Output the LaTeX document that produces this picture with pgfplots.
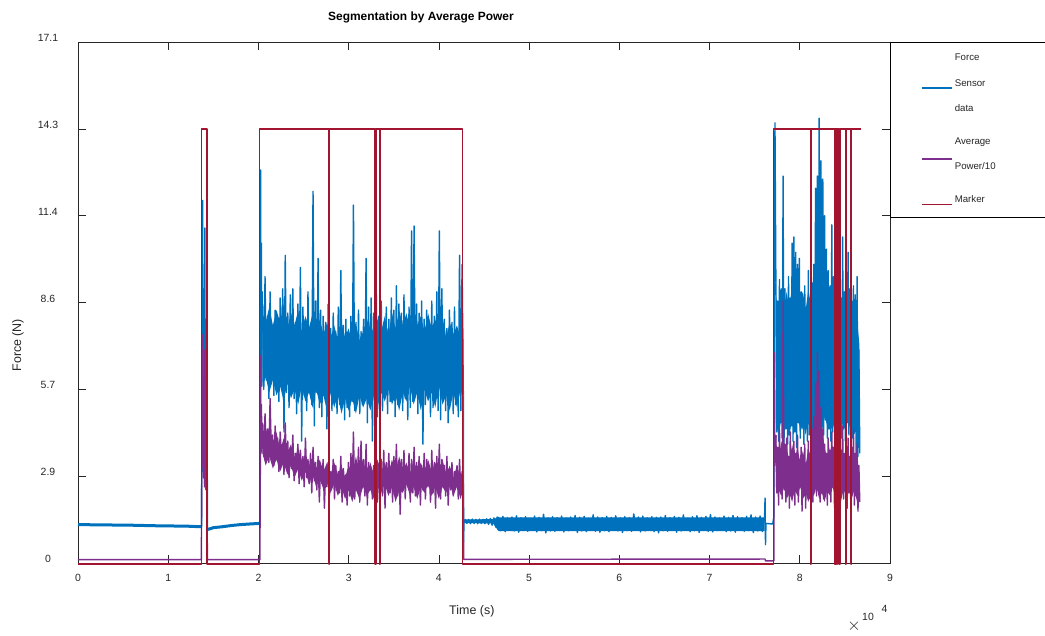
\documentclass[border=0pt]{standalone}
\usepackage{fontspec}
\setmainfont{Liberation Sans}
\usepackage{pgfplots}
\pgfplotsset{compat=1.18}
\usepackage{pgfplotstable}
\definecolor{mblue}{HTML}{0072BD}
\definecolor{mpurple}{HTML}{7E2F8E}
\definecolor{mred}{HTML}{A2142F}
\definecolor{axgray}{HTML}{262626}

% active segment 2: time (x1e4), force, power/10
\pgfplotstableread{
x f p
2.045 8.6 4.6
2.059 5.7 3.5
2.073 9.4 4.9
2.087 6.0 3.7
2.101 8.1 4.4
2.115 5.4 3.3
2.129 8.9 5.4
2.143 6.2 3.6
2.157 7.7 4.2
2.171 5.5 3.2
2.185 8.3 4.5
2.199 5.9 3.4
2.213 8.0 4.1
2.227 5.3 3.0
2.241 8.7 4.3
2.255 6.1 3.5
2.269 9.0 3.9
2.283 4.3 2.9
2.297 10.1 4.6
2.311 5.6 3.1
2.325 8.2 4.0
2.339 5.1 2.8
2.353 8.8 3.8
2.367 5.8 3.1
2.381 9.0 4.2
2.395 5.4 2.7
2.409 7.9 3.6
2.423 4.9 3.0
2.437 8.5 3.9
2.451 5.7 2.6
2.465 9.7 3.7
2.479 4.0 2.9
2.493 8.4 3.5
2.507 5.5 2.5
2.521 8.0 4.1
2.535 5.0 2.8
2.549 8.9 3.4
2.563 5.9 2.6
2.577 7.8 3.6
2.591 5.2 2.3
2.605 12.2 3.8
2.619 4.5 2.7
2.633 8.6 3.3
2.647 5.6 2.4
2.661 10.0 3.5
2.675 5.1 2.0
2.689 8.3 3.2
2.703 4.8 2.6
2.717 8.1 3.4
2.731 5.7 1.8
2.745 7.9 3.1
2.759 4.4 2.5
2.773 8.5 3.3
2.787 5.3 2.2
2.801 7.7 3.0
2.815 5.0 2.6
2.829 8.2 3.4
2.843 5.5 2.1
2.857 7.6 3.2
2.871 4.9 2.4
2.885 8.4 3.0
2.899 5.2 2.3
2.913 9.6 3.5
2.927 5.4 2.0
2.941 7.8 3.1
2.955 4.7 2.5
2.969 8.0 2.9
2.983 5.1 1.9
2.997 7.5 3.3
3.011 4.8 2.2
3.025 8.1 3.6
3.039 5.3 2.4
3.053 11.75 4.3
3.067 5.0 2.1
3.081 7.9 3.2
3.095 5.6 2.6
3.109 8.3 3.8
3.123 4.9 2.0
3.137 7.6 4.0
3.151 5.2 2.5
3.165 8.0 3.4
3.179 5.5 2.2
3.193 10.0 3.9
3.207 4.6 1.9
3.221 8.4 3.3
3.235 5.2 2.5
3.249 8.7 3.0
3.263 4.0 2.1
3.277 8.2 3.2
3.291 5.4 2.4
3.305 9.2 3.5
3.319 4.8 2.0
3.333 8.1 3.1
3.347 5.5 2.6
3.361 8.6 3.4
3.375 5.0 2.2
3.389 7.9 3.7
3.403 5.7 1.8
3.417 8.4 3.3
3.431 4.9 2.5
3.445 8.0 3.6
3.459 5.3 2.3
3.473 8.7 3.2
3.487 5.6 2.0
3.501 8.3 3.5
3.515 4.8 2.6
3.529 9.1 3.9
3.543 5.2 2.2
3.557 8.5 3.3
3.571 5.5 1.6
3.585 8.2 3.4
3.599 5.0 2.4
3.613 8.8 3.7
3.627 5.4 2.1
3.641 7.9 3.2
3.655 4.7 2.5
3.669 8.4 3.6
3.683 5.1 2.0
3.697 10.9 3.4
3.711 5.3 2.3
3.725 11.06 3.8
3.739 5.6 2.2
3.753 8.5 3.3
3.767 4.9 2.6
3.781 8.2 3.5
3.795 5.4 1.9
3.809 8.6 3.2
3.823 3.9 2.4
3.837 8.0 3.6
3.851 5.2 2.1
3.865 8.3 3.4
3.879 5.5 2.5
3.893 7.8 3.1
3.907 4.8 2.0
3.921 8.6 3.7
3.935 5.1 2.3
3.949 8.1 3.3
3.963 5.6 1.8
3.977 8.9 3.5
3.991 5.0 2.4
4.005 10.9 3.9
4.019 4.7 2.1
4.033 9.0 3.4
4.047 5.3 2.6
4.061 8.0 3.2
4.075 5.0 2.2
4.089 7.7 3.5
4.103 4.6 1.9
4.117 8.3 3.1
4.131 5.4 2.4
4.145 7.9 3.3
4.159 4.9 2.2
4.173 8.4 3.0
4.187 5.2 2.5
4.201 7.6 3.2
4.215 4.8 2.1
4.229 10.1 3.4
4.243 5.0 2.3
4.257 9.8 3.0
4.271 5.5 2.6
}\segtwo

% active segment 3
\pgfplotstableread{
x f p
7.735 9.2 4.2
7.745 4.3 2.3
7.755 8.6 3.8
7.765 4.0 1.9
7.775 9.3 4.4
7.785 4.6 2.5
7.795 9.0 3.6
7.805 4.1 2.1
7.815 12.7 8.6
7.825 3.8 2.4
7.835 9.0 3.9
7.845 4.4 2.0
7.855 8.3 4.1
7.865 3.9 2.6
7.875 9.4 3.5
7.885 4.2 1.8
7.895 8.7 4.3
7.905 4.5 2.2
7.915 10.5 3.7
7.925 4.0 2.5
7.935 10.7 4.0
7.945 4.3 1.9
7.955 10.2 3.6
7.965 3.8 2.4
7.975 9.8 4.2
7.985 4.6 2.0
7.995 10.0 3.4
8.005 4.1 2.6
8.015 8.9 3.8
8.025 4.4 1.7
8.035 8.6 3.5
8.045 3.9 2.2
8.055 9.1 3.9
8.065 4.5 1.8
8.075 8.4 3.3
8.085 4.0 2.5
8.095 9.6 4.0
8.105 4.2 2.1
8.115 8.7 3.6
8.125 3.7 2.3
8.135 9.2 4.4
8.145 4.3 2.0
8.155 9.8 4.8
8.165 4.1 2.6
8.175 12.3 5.9
8.185 4.6 2.2
8.195 12.7 6.9
8.205 4.4 2.4
8.215 14.6 6.3
8.225 4.0 2.0
8.235 13.2 5.1
8.245 4.5 2.5
8.255 12.6 4.4
8.265 4.2 2.1
8.275 11.4 3.9
8.285 4.7 2.6
8.295 10.3 3.6
8.305 4.1 1.9
8.315 9.6 4.1
8.325 4.4 2.3
8.335 9.1 3.7
8.345 4.0 2.0
8.355 11.1 4.3
8.365 4.3 2.5
8.375 9.4 3.8
8.385 4.6 1.8
8.395 8.9 4.0
8.405 4.2 2.2
8.415 9.7 3.5
8.425 3.9 2.6
8.435 9.0 4.2
8.445 4.5 1.9
8.455 8.7 3.7
8.465 4.1 2.4
8.475 10.7 4.5
8.485 4.4 2.1
8.495 8.9 3.6
8.505 4.0 2.5
8.515 9.3 3.9
8.525 4.6 1.8
8.535 10.2 4.1
8.545 4.2 2.3
8.555 9.0 3.5
8.565 4.5 2.0
8.575 8.6 3.8
8.585 4.1 2.4
8.595 9.1 4.4
8.605 4.3 1.9
8.615 8.8 3.6
8.625 3.6 2.2
8.635 9.4 3.9
8.645 3.5 1.7
8.655 7.0 3.2
8.665 3.6 2.0
}\segthree

\begin{document}
\begin{tikzpicture}
\begin{axis}[
  name=ax,
  scale only axis, width=812bp, height=521bp,
  xmin=0, xmax=9, ymin=0, ymax=17.1,
  clip=false,
  axis line style={axgray, line width=0.6bp},
  tick style={axgray, line width=0.6bp},
  major tick length=8bp,
  xtick={0,1,2,3,4,5,6,7,8,9},
  xticklabels={0,1,2,3,4,5,6,7,8,9},
  ytick={0,2.85,5.7,8.55,11.4,14.25,17.1},
  yticklabels={0,2.9,5.7,8.6,11.4,14.3,17.1},
  tick label style={font=\fontsize{10.5}{12}\selectfont, text=axgray},
  xticklabel style={anchor=center, yshift=-15bp},
  yticklabel style={anchor=center, xshift=-30bp, yshift=4bp},
  xlabel={Time (s)},
  xlabel style={at={(axis description cs:0.485,-0.093)}, anchor=center, font=\fontsize{12.5}{14}\selectfont, text=axgray},
  ylabel={Force (N)},
  ylabel style={at={(axis description cs:-0.0739,0.418)}, anchor=center, font=\fontsize{12.5}{14}\selectfont, text=axgray},
  title={Segmentation by Average Power},
  title style={at={(axis description cs:0.4224,1.0365)}, anchor=center, font=\bfseries\fontsize{12}{14}\selectfont},
  legend cell align=left,
  legend style={at={(1,1)}, anchor=north west,
    font=\fontsize{9.7}{25.5}\selectfont, text=axgray,
    inner xsep=31bp, inner ysep=12bp, row sep=26bp, column sep=2bp,
    nodes={inner sep=0pt, text width=110bp, align=left, text depth=}},
  legend image code/.code={\draw[#1] (0bp,-5bp) -- (30bp,-5bp);},
  every axis plot/.append style={line join=round},
]

% force sensor data
\addplot[mblue, line width=1.4bp] coordinates {
(1.366,1.2)(1.370,1.2)(1.374,6.5)(1.378,3.0)(1.382,11.9)(1.386,5.2)(1.390,9.0)(1.394,3.4)(1.398,8.6)
(1.402,2.6)(1.406,11.0)(1.410,4.4)(1.414,8.0)(1.418,2.4)(1.422,6.0)(1.426,3.0)(1.430,4.5)
(1.436,1.1)(1.440,1.08)
};
\addplot[mblue, line width=3bp, forget plot] coordinates {
(0.00,1.26)(0.30,1.25)(0.60,1.24)(0.90,1.22)(1.20,1.21)(1.366,1.19)
};
\addplot[mblue, line width=3bp, forget plot] coordinates {
(1.440,1.10)(1.50,1.16)(1.60,1.19)(1.70,1.23)(1.80,1.26)(1.90,1.28)(2.018,1.30)
};
% dense cores of the noisy stretches
\addplot[fill=mblue, draw=none, forget plot] coordinates {
(2.045,8.2)(2.08,7.9)(2.12,8.4)(2.16,7.8)(2.20,8.3)(2.24,7.9)(2.28,8.5)(2.32,7.7)(2.36,8.2)(2.40,7.8)
(2.44,8.3)(2.48,7.6)(2.52,8.1)(2.56,7.7)(2.60,8.2)(2.64,7.6)(2.68,8.0)(2.72,7.5)(2.76,7.9)(2.80,7.4)
(2.84,7.8)(2.88,7.3)(2.92,7.9)(2.96,7.4)(3.00,7.7)(3.04,7.2)(3.08,7.8)(3.12,7.3)(3.16,7.6)(3.20,7.4)
(3.24,7.9)(3.28,7.5)(3.32,8.0)(3.36,7.6)(3.40,8.1)(3.44,7.5)(3.48,8.2)(3.52,7.7)(3.56,8.3)(3.60,7.8)
(3.64,8.2)(3.68,7.7)(3.72,8.4)(3.76,7.8)(3.80,8.1)(3.84,7.6)(3.88,8.2)(3.92,7.7)(3.96,8.0)(4.00,7.5)
(4.04,8.1)(4.08,7.4)(4.12,7.9)(4.16,7.5)(4.20,7.8)(4.24,7.4)(4.27,7.7)
(4.27,5.3)(4.24,5.7)(4.20,5.1)(4.16,5.6)(4.12,5.0)(4.08,5.5)(4.04,5.2)(4.00,5.8)(3.96,5.1)(3.92,5.6)
(3.88,5.3)(3.84,5.7)(3.80,5.0)(3.76,5.6)(3.72,5.2)(3.68,5.8)(3.64,5.3)(3.60,5.6)(3.56,5.0)(3.52,5.5)
(3.48,5.2)(3.44,5.7)(3.40,5.3)(3.36,5.6)(3.32,5.1)(3.28,5.5)(3.24,5.0)(3.20,5.4)(3.16,5.1)(3.12,5.5)
(3.08,4.9)(3.04,5.4)(3.00,5.0)(2.96,5.4)(2.92,4.9)(2.88,5.5)(2.84,5.1)(2.80,5.6)(2.76,5.0)(2.72,5.5)
(2.68,5.2)(2.64,5.7)(2.60,5.1)(2.56,5.6)(2.52,5.3)(2.48,5.8)(2.44,5.2)(2.40,5.7)(2.36,5.4)(2.32,5.9)
(2.28,5.3)(2.24,5.8)(2.20,5.5)(2.16,6.0)(2.12,5.6)(2.08,6.1)(2.045,5.8)
} -- cycle;
\addplot[fill=mblue, draw=none, forget plot] coordinates {
(4.278,1.43)(4.60,1.44)(4.66,1.50)(7.61,1.50)
(7.61,1.05)(4.66,1.05)(4.60,1.30)(4.278,1.31)
} -- cycle;
\addplot[fill=mblue, draw=none, forget plot] coordinates {
(7.735,8.8)(7.765,8.2)(7.795,9.0)(7.825,8.4)(7.855,8.9)(7.885,8.3)(7.915,9.2)(7.945,8.6)(7.975,9.4)(8.005,8.7)
(8.035,8.9)(8.065,8.3)(8.095,9.0)(8.125,8.4)(8.155,9.3)(8.185,10.5)(8.215,11.8)(8.245,11.0)(8.275,10.2)(8.305,9.2)
(8.335,8.6)(8.365,9.1)(8.395,8.5)(8.425,8.9)(8.455,8.3)(8.485,8.8)(8.515,8.4)(8.545,8.9)(8.575,8.3)(8.605,8.7)
(8.635,8.0)(8.66,7.2)
(8.66,4.1)(8.635,4.6)(8.605,4.2)(8.575,4.8)(8.545,4.4)(8.515,4.9)(8.485,4.5)(8.455,4.8)(8.425,4.3)(8.395,4.7)
(8.365,4.4)(8.335,4.9)(8.305,4.5)(8.275,4.8)(8.245,4.3)(8.215,4.7)(8.185,4.4)(8.155,4.8)(8.125,4.3)(8.095,4.7)
(8.065,4.2)(8.035,4.6)(8.005,4.4)(7.975,4.8)(7.945,4.3)(7.915,4.7)(7.885,4.2)(7.855,4.6)(7.825,4.3)(7.795,4.7)
(7.765,4.2)(7.735,4.6)
} -- cycle;
\addplot[mblue, line width=1.4bp, forget plot] coordinates {
(2.018,1.30)(2.020,1.3)(2.024,12.9)(2.028,6.2)(2.032,10.5)(2.037,5.8)(2.041,8.9)(2.045,8.6)
};
\addplot[mblue, line width=1.4bp, forget plot] table[x=x, y=f] {\segtwo};
\addplot[mblue, line width=1.4bp, forget plot] coordinates {
(4.271,5.5)(4.274,0.7)(4.278,1.38)(4.290,1.38)
};
\addplot[mblue, line width=1.4bp, forget plot] coordinates {
(4.290,1.44)(4.310,1.30)(4.330,1.43)(4.350,1.29)(4.370,1.44)(4.390,1.30)(4.410,1.43)(4.430,1.29)
(4.450,1.44)(4.470,1.30)(4.490,1.43)(4.510,1.29)(4.530,1.45)(4.550,1.27)(4.570,1.46)(4.590,1.24)
(4.610,1.48)(4.630,1.18)(4.645,1.51)(4.655,1.10)
(4.660,1.50)(4.685,1.06)(4.710,1.53)(4.735,1.03)(4.760,1.48)(4.785,1.08)(4.810,1.51)(4.835,1.05)
(4.860,1.55)(4.885,1.01)(4.910,1.49)(4.935,1.07)(4.960,1.52)(4.985,1.04)(5.010,1.47)(5.035,1.09)
(5.060,1.54)(5.085,1.02)(5.110,1.50)(5.135,1.06)(5.160,1.60)(5.185,0.99)(5.210,1.48)(5.235,1.05)
(5.260,1.52)(5.285,1.04)(5.310,1.49)(5.335,1.07)(5.360,1.54)(5.385,1.02)(5.410,1.48)(5.435,1.06)
(5.460,1.51)(5.485,1.08)(5.510,1.56)(5.535,1.00)(5.560,1.50)(5.585,1.05)(5.610,1.53)(5.635,1.03)
(5.660,1.47)(5.685,1.07)(5.710,1.58)(5.735,1.04)(5.760,1.51)(5.785,1.01)(5.810,1.49)(5.835,1.06)
(5.860,1.53)(5.885,1.03)(5.910,1.50)(5.935,1.08)(5.960,1.55)(5.985,1.05)(6.010,1.48)(6.035,1.00)
(6.060,1.52)(6.085,1.06)(6.110,1.49)(6.135,1.04)(6.160,1.61)(6.185,1.07)(6.210,1.51)(6.235,1.02)
(6.260,1.54)(6.285,1.05)(6.310,1.48)(6.335,1.09)(6.360,1.52)(6.385,1.03)(6.410,1.50)(6.435,0.99)
(6.460,1.51)(6.485,1.06)(6.510,1.56)(6.535,1.04)(6.560,1.49)(6.585,1.07)(6.610,1.53)(6.635,1.01)
(6.660,1.50)(6.685,1.05)(6.710,1.58)(6.735,1.08)(6.760,1.48)(6.785,1.03)(6.810,1.52)(6.835,1.06)
(6.860,1.55)(6.885,1.00)(6.910,1.50)(6.935,1.07)(6.960,1.53)(6.985,1.04)(7.010,1.59)(7.035,1.02)
(7.060,1.51)(7.085,1.06)(7.110,1.48)(7.135,1.08)(7.160,1.54)(7.185,1.03)(7.210,1.50)(7.235,1.05)
(7.260,1.56)(7.285,1.01)(7.310,1.52)(7.335,1.07)(7.360,1.49)(7.385,1.04)(7.410,1.53)(7.435,1.06)
(7.460,1.58)(7.485,1.00)(7.510,1.51)(7.535,1.05)(7.560,1.54)(7.585,1.03)(7.610,1.50)
};
\addplot[mblue, line width=1.4bp, forget plot] coordinates {
(7.610,1.50)(7.615,2.13)(7.620,0.6)(7.625,1.3)(7.700,1.28)(7.712,1.5)(7.718,7.0)(7.725,14.45)(7.735,9.2)
};
\addplot[mblue, line width=1.4bp, forget plot] table[x=x, y=f] {\segthree};

% average power / 10
\addplot[mpurple, line width=1.4bp] coordinates {
(0,0.11)(1.367,0.11)(1.372,3.0)(1.377,7.5)(1.382,4.2)(1.387,6.1)(1.392,2.8)(1.397,5.3)
(1.402,2.5)(1.407,7.0)(1.412,3.4)(1.417,5.0)(1.422,2.6)(1.428,3.8)(1.434,0.11)(2.017,0.11)
(2.022,6.8)(2.027,4.0)(2.033,5.2)(2.039,3.6)(2.045,4.6)
};
\addplot[fill=mpurple, draw=none, forget plot] coordinates {
(2.045,4.4)(2.08,4.0)(2.12,4.5)(2.16,3.9)(2.20,4.3)(2.24,3.7)(2.28,4.1)(2.32,3.6)(2.36,3.9)(2.40,3.4)
(2.44,3.8)(2.48,3.3)(2.52,3.6)(2.56,3.2)(2.60,3.5)(2.64,3.1)(2.68,3.4)(2.72,3.0)(2.76,3.3)(2.80,2.9)
(2.84,3.3)(2.88,2.9)(2.92,3.2)(2.96,2.8)(3.00,3.2)(3.04,2.9)(3.08,3.5)(3.12,3.0)(3.16,3.4)(3.20,2.9)
(3.24,3.3)(3.28,2.9)(3.32,3.4)(3.36,3.0)(3.40,3.3)(3.44,2.9)(3.48,3.4)(3.52,3.0)(3.56,3.5)(3.60,3.0)
(3.64,3.3)(3.68,2.9)(3.72,3.4)(3.76,3.0)(3.80,3.3)(3.84,2.9)(3.88,3.4)(3.92,3.0)(3.96,3.3)(4.00,2.9)
(4.04,3.4)(4.08,2.9)(4.12,3.2)(4.16,2.8)(4.20,3.2)(4.24,2.8)(4.27,3.0)
(4.27,2.4)(4.24,2.1)(4.20,2.5)(4.16,2.2)(4.12,2.6)(4.08,2.3)(4.04,2.5)(4.00,2.1)(3.96,2.5)(3.92,2.2)
(3.88,2.6)(3.84,2.3)(3.80,2.5)(3.76,2.1)(3.72,2.5)(3.68,2.2)(3.64,2.6)(3.60,2.3)(3.56,2.4)(3.52,2.0)
(3.48,2.5)(3.44,2.2)(3.40,2.6)(3.36,2.3)(3.32,2.5)(3.28,2.1)(3.24,2.4)(3.20,2.2)(3.16,2.5)(3.12,2.1)
(3.08,2.4)(3.04,2.0)(3.00,2.4)(2.96,2.1)(2.92,2.5)(2.88,2.2)(2.84,2.6)(2.80,2.3)(2.76,2.7)(2.72,2.4)
(2.68,2.8)(2.64,2.5)(2.60,2.9)(2.56,2.6)(2.52,3.0)(2.48,2.7)(2.44,3.1)(2.40,2.8)(2.36,3.2)(2.32,2.9)
(2.28,3.3)(2.24,3.0)(2.20,3.4)(2.16,3.1)(2.12,3.5)(2.08,3.2)(2.045,3.6)
} -- cycle;
\addplot[fill=mpurple, draw=none, forget plot] coordinates {
(7.735,3.9)(7.765,3.4)(7.795,4.0)(7.825,3.5)(7.855,3.8)(7.885,3.3)(7.915,3.9)(7.945,3.4)(7.975,3.8)(8.005,3.3)
(8.035,3.7)(8.065,3.2)(8.095,3.8)(8.125,3.4)(8.155,4.1)(8.185,4.8)(8.215,5.3)(8.245,4.5)(8.275,3.8)(8.305,3.4)
(8.335,3.8)(8.365,3.3)(8.395,3.7)(8.425,3.2)(8.455,3.8)(8.485,3.3)(8.515,3.7)(8.545,3.2)(8.575,3.6)(8.605,3.1)
(8.635,3.4)(8.66,3.0)
(8.66,2.3)(8.635,2.0)(8.605,2.4)(8.575,2.1)(8.545,2.5)(8.515,2.2)(8.485,2.4)(8.455,2.0)(8.425,2.4)(8.395,2.1)
(8.365,2.5)(8.335,2.2)(8.305,2.4)(8.275,2.0)(8.245,2.3)(8.215,2.1)(8.185,2.5)(8.155,2.2)(8.125,2.4)(8.095,2.0)
(8.065,2.3)(8.035,2.1)(8.005,2.5)(7.975,2.2)(7.945,2.4)(7.915,2.0)(7.885,2.3)(7.855,2.1)(7.825,2.5)(7.795,2.2)
(7.765,2.4)(7.735,2.5)
} -- cycle;
\addplot[mpurple, line width=1.4bp, forget plot] table[x=x, y=p] {\segtwo};
\addplot[mpurple, line width=1.4bp, forget plot] coordinates {
(4.271,2.6)(4.274,0.12)(7.615,0.13)(7.620,0.07)(7.712,0.07)(7.718,6.9)(7.725,3.2)(7.735,4.2)
};
\addplot[mpurple, line width=1.4bp, forget plot] table[x=x, y=p] {\segthree};

% marker
\addplot[mred, line width=1.6bp] coordinates {
(0,-0.04)(1.367,-0.04)(1.367,14.25)(1.433,14.25)(1.433,-0.04)(2.012,-0.04)(2.012,14.25)
(2.782,14.25)(2.782,-0.04)(2.788,-0.04)(2.788,14.25)
(3.293,14.25)(3.293,-0.04)(3.300,-0.04)(3.300,14.25)
(3.343,14.25)(3.343,-0.04)(3.350,-0.04)(3.350,14.25)
(4.263,14.25)(4.263,-0.04)(7.710,-0.04)(7.710,14.25)
(8.117,14.25)(8.117,-0.04)(8.123,-0.04)(8.123,14.25)
(8.386,14.25)(8.386,-0.04)(8.392,-0.04)(8.392,14.25)
(8.398,14.25)(8.398,-0.04)(8.404,-0.04)(8.404,14.25)
(8.410,14.25)(8.410,-0.04)(8.416,-0.04)(8.416,14.25)
(8.437,14.25)(8.437,-0.04)(8.443,-0.04)(8.443,14.25)
(8.505,14.25)(8.505,-0.04)(8.511,-0.04)(8.511,14.25)
(8.567,14.25)(8.567,-0.04)(8.573,-0.04)(8.573,14.25)
(8.680,14.25)
};

\legend{Force\\Sensor\\data, Average\\Power/10, Marker}

\node[font=\fontsize{17}{18}\selectfont, text=axgray] at (axis description cs:0.9557,-0.1209) {$\times$};
\node[font=\fontsize{10.5}{12}\selectfont, text=axgray] at (axis description cs:0.9729,-0.1036) {10};
\node[font=\fontsize{10.5}{12}\selectfont, text=axgray] at (axis description cs:0.9932,-0.0873) {4};
\end{axis}
\pgfresetboundingbox
\path ([shift={(-78bp,-72bp)}]ax.south west) rectangle ([shift={(155bp,42bp)}]ax.north east);
\end{tikzpicture}
\end{document}
